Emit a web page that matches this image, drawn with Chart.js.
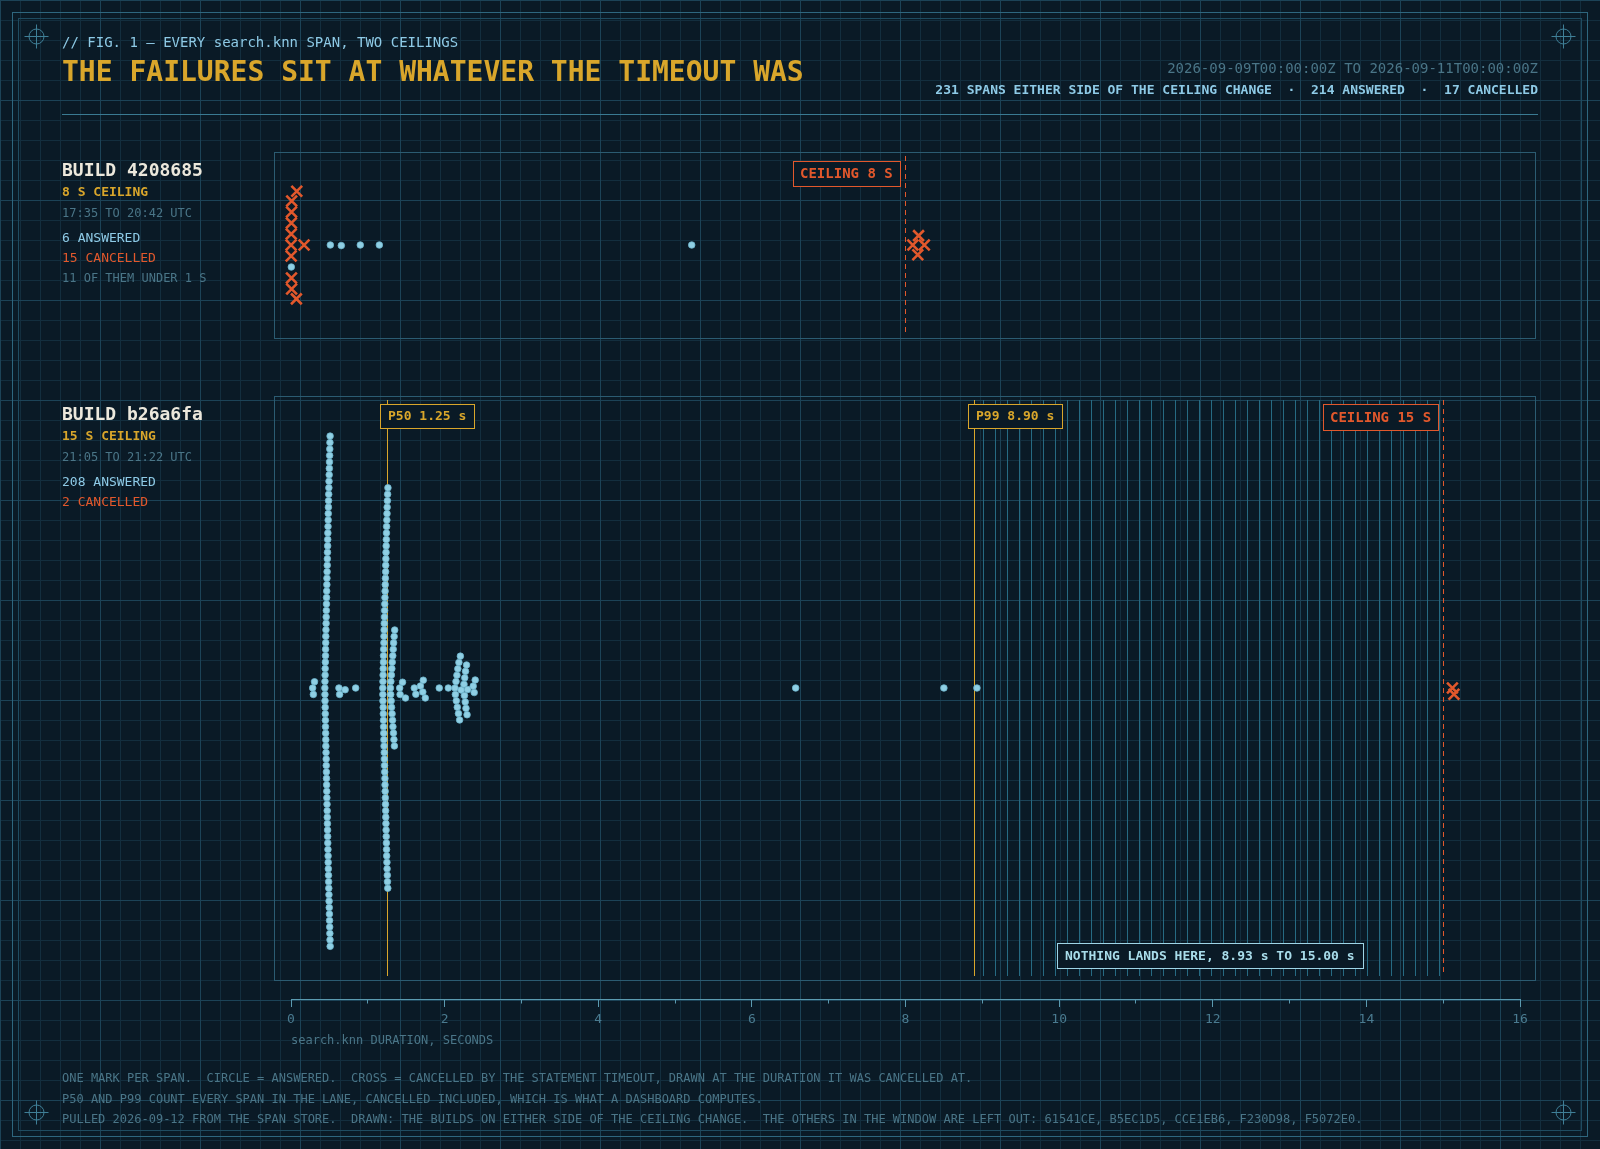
<!DOCTYPE html>
<html>
<head>
<meta charset="utf-8">
<title>search.knn spans, two ceilings</title>
<script src="https://cdn.jsdelivr.net/npm/chart.js@4.4.1/dist/chart.umd.min.js"></script>
<style>
  html, body { margin: 0; padding: 0; }
  body {
    position: relative; width: 1600px; height: 1149px; overflow: hidden;
    background-color: #0a1a26;
    background-image:
      linear-gradient(to right, #1c4357 1px, transparent 1px),
      linear-gradient(to bottom, #1c4357 1px, transparent 1px),
      linear-gradient(to right, #132e3e 1px, transparent 1px),
      linear-gradient(to bottom, #132e3e 1px, transparent 1px);
    background-size: 100px 100px, 100px 100px, 20px 20px, 20px 20px;
    font-family: "DejaVu Sans Mono", monospace;
  }
  #frame, #chart { position: absolute; left: 0; top: 0; }
  .t { position: absolute; white-space: pre; transform: translateY(-50%); line-height: 1.2; }
  .blue { color: #8ecae6; }
  .gold { color: #d9a62b; }
  .red { color: #e2582c; }
  .dim { color: #4a7587; }
  .white { color: #ece8dc; }
</style>
</head>
<body>
<svg id="frame" width="1600" height="1149">
  <rect x="12.5" y="12.5" width="1575" height="1124" fill="none" stroke="#2e667e"/>
  <rect x="18.5" y="18.5" width="1563" height="1112" fill="none" stroke="#1f4b60"/>
  <line x1="62" y1="114.5" x2="1538" y2="114.5" stroke="#3a7a92"/>
  <g id="marks" stroke="#3f7f97" fill="none"></g>
</svg>
<canvas id="chart" width="1600" height="1149"></canvas>

<div class="t blue" style="left:62px;top:42px;font-size:14px">// FIG. 1 — EVERY search.knn SPAN, TWO CEILINGS</div>
<div class="t gold" style="left:62px;top:72px;font-size:28px;font-weight:bold">THE FAILURES SIT AT WHATEVER THE TIMEOUT WAS</div>
<div class="t dim" style="right:62px;top:68px;font-size:14px">2026-09-09T00:00:00Z TO 2026-09-11T00:00:00Z</div>
<div class="t blue" id="totals" style="right:62px;top:90px;font-size:13px;font-weight:bold"></div>

<div class="t dim" style="left:291px;top:1040px;font-size:12px">search.knn DURATION, SECONDS</div>
<div class="t dim" style="left:62px;top:1078px;font-size:12px">ONE MARK PER SPAN.  CIRCLE = ANSWERED.  CROSS = CANCELLED BY THE STATEMENT TIMEOUT, DRAWN AT THE DURATION IT WAS CANCELLED AT.</div>
<div class="t dim" style="left:62px;top:1099px;font-size:12px">P50 AND P99 COUNT EVERY SPAN IN THE LANE, CANCELLED INCLUDED, WHICH IS WHAT A DASHBOARD COMPUTES.</div>
<div class="t dim" style="left:62px;top:1119px;font-size:12px">PULLED 2026-09-12 FROM THE SPAN STORE.  DRAWN: THE BUILDS ON EITHER SIDE OF THE CEILING CHANGE.  THE OTHERS IN THE WINDOW ARE LEFT OUT: 61541CE, B5EC1D5, CCE1EB6, F230D98, F5072E0.</div>

<script>
// ---------- data ----------
const X_TICKS = [0, 2, 4, 6, 8, 10, 12, 14, 16];
const X_MINOR = [1, 3, 5, 7, 9, 11, 13, 15];

const BUILDS = ["4208685", "b26a6fa"];
const CEILINGS = [8, 15];
const WINDOWS = ["17:35 TO 20:42 UTC", "21:05 TO 21:22 UTC"];

// build 4208685, seconds
const B1_ANSWERED = [0.004, 0.512, 0.655, 0.902, 1.150, 5.217];
const B1_CANCELLED = [0.001, 0.002, 0.003, 0.005, 0.006, 0.007, 0.008, 0.009,
  0.070, 0.075, 0.170, 8.095, 8.160, 8.170, 8.245];

// build b26a6fa, seconds
const B2_ANSWERED = [
  0.282, 0.291, 0.306,
  0.441, 0.442, 0.442, 0.443, 0.444, 0.445, 0.445, 0.446, 0.447, 0.448,
  0.449, 0.449, 0.450, 0.451, 0.452, 0.453, 0.453, 0.454, 0.455, 0.456,
  0.457, 0.458, 0.458, 0.459, 0.460, 0.461, 0.462, 0.462, 0.463, 0.464,
  0.465, 0.466, 0.467, 0.467, 0.468, 0.469, 0.470, 0.471, 0.472, 0.472,
  0.473, 0.474, 0.475, 0.476, 0.477, 0.477, 0.478, 0.479, 0.480, 0.481,
  0.482, 0.483, 0.484, 0.484, 0.485, 0.486, 0.487, 0.488, 0.489, 0.490,
  0.491, 0.492, 0.493, 0.494, 0.495, 0.496, 0.497, 0.498, 0.499, 0.500,
  0.501, 0.502, 0.503, 0.504, 0.505, 0.506, 0.507, 0.508, 0.509, 0.510,
  0.624, 0.633, 0.705, 0.842,
  1.195, 1.196, 1.197, 1.197, 1.199, 1.200, 1.201, 1.202, 1.204, 1.204, 1.205,
  1.206, 1.207, 1.208, 1.210, 1.210, 1.211, 1.212, 1.213, 1.215, 1.215, 1.216,
  1.217, 1.218, 1.219, 1.220, 1.221, 1.223, 1.223, 1.224, 1.225, 1.226, 1.227,
  1.228, 1.229, 1.230, 1.232, 1.232, 1.233, 1.234, 1.235, 1.236, 1.237, 1.238,
  1.239, 1.240, 1.241, 1.242, 1.243, 1.244, 1.245, 1.246, 1.248, 1.249, 1.250,
  1.251, 1.252, 1.254, 1.255, 1.256, 1.258, 1.260, 1.262,
  1.295, 1.298, 1.300, 1.304, 1.307, 1.309, 1.313, 1.316, 1.318, 1.322,
  1.325, 1.327, 1.331, 1.334, 1.336, 1.340, 1.343, 1.346, 1.350,
  1.415, 1.420, 1.452, 1.490, 1.605, 1.625, 1.685, 1.716, 1.722, 1.748,
  1.930, 2.048,
  2.135, 2.140, 2.148, 2.152, 2.160, 2.165, 2.172, 2.180, 2.186, 2.195, 2.205, 2.215,
  2.252, 2.258, 2.262, 2.268, 2.272, 2.278, 2.285, 2.292, 2.300,
  2.372, 2.385, 2.398,
  6.570, 8.500, 8.930,
];
const B2_CANCELLED = [15.12, 15.14];
const B2_P50 = 1.25;
const B2_P99 = 8.90;

// ---------- layout ----------
const MONO = '"DejaVu Sans Mono", monospace';
const BG = "#0a1a26";
const C_BLUE = "#8ecae6", C_GOLD = "#d9a62b", C_RED = "#e2582c";
const PLOT_L = 274, PLOT_R = 1536, AXIS_Y = 999;
const X0_PX = 291, X16_PX = 1520;
const PX_PER_S = (X16_PX - X0_PX) / 16;
const X_MIN = -(X0_PX - PLOT_L) / PX_PER_S;
const X_MAX = 16 + (PLOT_R - X16_PX) / PX_PER_S;

// r = half the spacing the swarm keeps between marks in that lane
const LANES = [
  { top: 152, bottom: 338, center: 245, r: 5.5 },
  { top: 396, bottom: 980, center: 688, r: 3.23 },
];

// corner crosshairs
const marks = document.getElementById("marks");
[[36.5, 36.5], [1563.5, 36.5], [36.5, 1112.5], [1563.5, 1112.5]].forEach(([cx, cy]) => {
  marks.innerHTML += `<circle cx="${cx}" cy="${cy}" r="7.5"/>` +
    `<path d="M${cx - 12} ${cy}H${cx + 12}M${cx} ${cy - 12}V${cy + 12}"/>`;
});

// beeswarm: place marks in order of duration, each as close to the lane centre as it fits
function swarm(items, r) {
  const order = items.map((_, i) => i).sort((a, b) => items[a].v - items[b].v);
  const placed = [];
  const d = 2 * r;
  order.forEach((i) => {
    const it = items[i];
    const px = it.v * PX_PER_S;
    const near = placed.filter((p) => Math.abs(p.px - px) < d);
    const cands = [0];
    near.forEach((p) => {
      const dx = px - p.px;
      const dy = Math.sqrt(d * d - dx * dx);
      cands.push(p.y + dy, p.y - dy);
    });
    cands.sort((a, b) => {
      const k = Math.abs(a) - Math.abs(b);
      return Math.abs(k) > 0.01 ? k : b - a;
    });
    const fits = (c) => near.every((p) => {
      const dx = px - p.px, dy = c - p.y;
      return dx * dx + dy * dy >= (d - 1e-6) * (d - 1e-6);
    });
    it.dy = cands.find(fits);
    placed.push({ px, y: it.dy });
  });
  return items;
}

function lanePoints(lane, answered, cancelled) {
  const items = swarm(
    answered.map((v) => ({ v, kind: "a" })).concat(cancelled.map((v) => ({ v, kind: "c" }))),
    lane.r
  );
  const pick = (k) => items.filter((it) => it.kind === k).map((it) => ({ x: it.v, y: lane.center + it.dy }));
  return { answered: pick("a"), cancelled: pick("c") };
}

const L1 = lanePoints(LANES[0], B1_ANSWERED, B1_CANCELLED);
const L2 = lanePoints(LANES[1], B2_ANSWERED, B2_CANCELLED);
const B2_LAST = Math.max(...B2_ANSWERED);

// ---------- text panels ----------
function note(text, cls, left, top, size, bold) {
  const d = document.createElement("div");
  d.className = "t " + cls;
  d.textContent = text;
  d.style.left = left + "px";
  d.style.top = top + "px";
  d.style.fontSize = size + "px";
  if (bold) d.style.fontWeight = "bold";
  document.body.appendChild(d);
}

const answeredAll = B1_ANSWERED.length + B2_ANSWERED.length;
const cancelledAll = B1_CANCELLED.length + B2_CANCELLED.length;
document.getElementById("totals").textContent =
  `${answeredAll + cancelledAll} SPANS EITHER SIDE OF THE CEILING CHANGE  ·  ${answeredAll} ANSWERED  ·  ${cancelledAll} CANCELLED`;

[[B1_ANSWERED, B1_CANCELLED], [B2_ANSWERED, B2_CANCELLED]].forEach(([ans, can], i) => {
  const t = LANES[i].top;
  note("BUILD " + BUILDS[i], "white", 62, t + 18, 18, true);
  note(CEILINGS[i] + " S CEILING", "gold", 62, t + 40, 13, true);
  note(WINDOWS[i], "dim", 62, t + 61, 12);
  note(ans.length + " ANSWERED", "blue", 62, t + 86, 13);
  note(can.length + " CANCELLED", "red", 62, t + 106, 13);
  const under = can.filter((v) => v < 1).length;
  if (under > 2) note(under + " OF THEM UNDER 1 S", "dim", 62, t + 125.5, 12);
});

// ---------- chart ----------
function tag(ctx, text, px, top, h, anchor, color, size, pad, textColor) {
  ctx.font = `bold ${size}px ${MONO}`;
  const w = Math.round(ctx.measureText(text).width + 2 * pad);
  const left = Math.round(anchor === "left" ? px : anchor === "right" ? px - w : px - w / 2);
  ctx.fillStyle = BG;
  ctx.fillRect(left, top, w, h);
  ctx.strokeStyle = color;
  ctx.lineWidth = 1;
  ctx.setLineDash([]);
  ctx.strokeRect(left + 0.5, top + 0.5, w, h);
  ctx.fillStyle = textColor || color;
  ctx.textAlign = "left";
  ctx.textBaseline = "middle";
  ctx.fillText(text, left + pad, top + h / 2 + 1);
}

const decor = {
  id: "decor",
  beforeDatasetsDraw(chart) {
    const { ctx, chartArea: a, scales: { x, y } } = chart;
    const sx = (v) => Math.round(x.getPixelForValue(v) - 0.5) + 0.5;
    const vline = (v, lane, color, dash) => {
      ctx.strokeStyle = color;
      ctx.setLineDash(dash || []);
      ctx.beginPath();
      ctx.moveTo(sx(v), y.getPixelForValue(lane.top + 4));
      ctx.lineTo(sx(v), y.getPixelForValue(lane.bottom - 4));
      ctx.stroke();
    };
    ctx.save();
    ctx.lineWidth = 1;

    LANES.forEach((l) => {
      ctx.strokeStyle = "#2b5b71";
      ctx.strokeRect(Math.round(a.left) + 0.5, Math.round(y.getPixelForValue(l.top)) + 0.5,
        Math.round(a.right - a.left) - 1, Math.round(l.bottom - l.top));
    });

    // lane 2: empty stretch between the last answer and the ceiling
    const lane2 = LANES[1];
    const gapL = x.getPixelForValue(B2_LAST), gapR = x.getPixelForValue(CEILINGS[1]);
    ctx.strokeStyle = "#266a82";
    ctx.beginPath();
    for (let px = Math.round(gapL) + 6.5; px < gapR - 3; px += 12) {
      ctx.moveTo(px, y.getPixelForValue(lane2.top + 4));
      ctx.lineTo(px, y.getPixelForValue(lane2.bottom - 4));
    }
    ctx.stroke();

    vline(CEILINGS[0], LANES[0], C_RED, [5, 4]);
    vline(B2_P50, lane2, C_GOLD);
    vline(B2_P99, lane2, C_GOLD);
    vline(CEILINGS[1], lane2, C_RED, [5, 4]);

    const t1 = y.getPixelForValue(LANES[0].top), t2 = y.getPixelForValue(lane2.top);
    tag(ctx, `CEILING ${CEILINGS[0]} S`, x.getPixelForValue(CEILINGS[0]) - 6, t1 + 9, 25, "right", C_RED, 14, 7);
    tag(ctx, `P50 ${B2_P50.toFixed(2)} s`, x.getPixelForValue(B2_P50) - 7, t2 + 8, 24, "left", C_GOLD, 13, 8);
    tag(ctx, `P99 ${B2_P99.toFixed(2)} s`, x.getPixelForValue(B2_P99) - 7, t2 + 8, 24, "left", C_GOLD, 13, 8);
    tag(ctx, `CEILING ${CEILINGS[1]} S`, x.getPixelForValue(CEILINGS[1]) - 5, t2 + 8, 26, "right", C_RED, 14, 7);
    tag(ctx, `NOTHING LANDS HERE, ${B2_LAST.toFixed(2)} s TO ${CEILINGS[1].toFixed(2)} s`,
      (gapL + gapR) / 2, y.getPixelForValue(lane2.bottom) - 37, 25, "center", "#9fd5e6", 13, 8, "#a8dcea");
    ctx.restore();
  },
  afterDraw(chart) {
    const { ctx, chartArea: a, scales: { x } } = chart;
    const sx = (v) => Math.round(x.getPixelForValue(v) - 0.5) + 0.5;
    const yb = Math.round(a.bottom) + 0.5;
    ctx.save();
    ctx.strokeStyle = "#5b9ab0";
    ctx.lineWidth = 1;
    ctx.beginPath();
    ctx.moveTo(x.getPixelForValue(X_TICKS[0]), yb);
    ctx.lineTo(x.getPixelForValue(X_TICKS[X_TICKS.length - 1]) + 1, yb);
    X_MINOR.forEach((v) => { ctx.moveTo(sx(v), yb); ctx.lineTo(sx(v), yb + 4); });
    ctx.stroke();
    ctx.restore();
  },
};

const dots = { pointStyle: "circle", pointRadius: 3.3, pointBackgroundColor: "#8fcfe4", pointBorderColor: "#6db5cd", pointBorderWidth: 0.8 };
const crosses = { pointStyle: "crossRot", pointRadius: 7.6, pointBorderColor: C_RED, pointBackgroundColor: C_RED, pointBorderWidth: 2.6 };

new Chart(document.getElementById("chart"), {
  type: "scatter",
  data: {
    datasets: [
      { label: "4208685 answered", data: L1.answered, ...dots },
      { label: "4208685 cancelled", data: L1.cancelled, ...crosses },
      { label: "b26a6fa answered", data: L2.answered, ...dots },
      { label: "b26a6fa cancelled", data: L2.cancelled, ...crosses },
    ],
  },
  options: {
    responsive: false,
    animation: false,
    devicePixelRatio: 1,
    events: [],
    layout: { padding: { left: PLOT_L, right: 1600 - PLOT_R, top: LANES[0].top, bottom: 1149 - AXIS_Y - 50 } },
    plugins: { legend: { display: false }, tooltip: { enabled: false } },
    scales: {
      x: {
        type: "linear",
        min: X_MIN,
        max: X_MAX,
        afterBuildTicks: (axis) => { axis.ticks = X_TICKS.map((v) => ({ value: v })); },
        afterFit: (axis) => { axis.height = 50; },
        border: { display: false },
        grid: { drawOnChartArea: false, drawTicks: true, tickLength: 8, color: "#5b9ab0" },
        ticks: { color: "#4a7b90", font: { family: MONO, size: 13 }, padding: 5, autoSkip: false, maxRotation: 0 },
      },
      y: { type: "linear", min: LANES[0].top, max: AXIS_Y, reverse: true, display: false },
    },
  },
  plugins: [decor],
});
</script>
</body>
</html>
